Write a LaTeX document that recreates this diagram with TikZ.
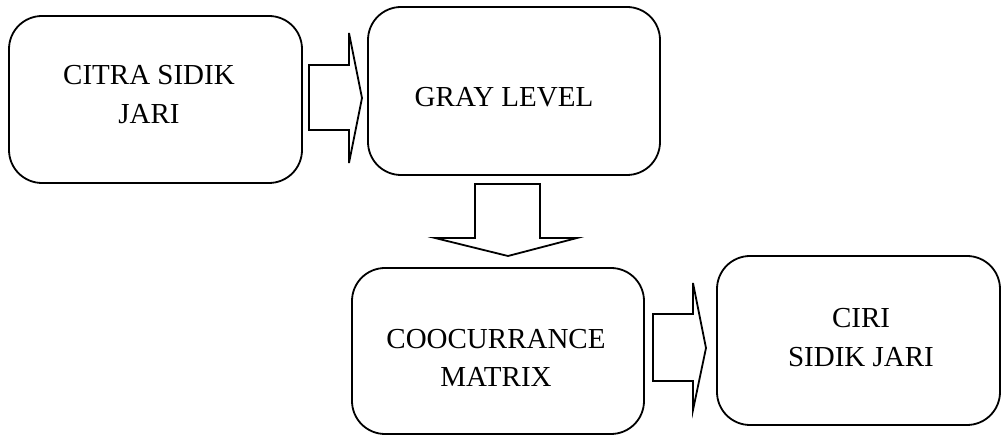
\documentclass[tikz,border=0pt]{standalone}
\usepackage{fontspec}
\setmainfont{Liberation Serif}
\begin{document}
\begin{tikzpicture}[x=1pt,y=-1pt,
  stagebox/.style={draw=black, line width=1.8pt, rounded corners=33pt, inner sep=0pt, outer sep=0pt},
  caption/.style={anchor=base, inner sep=0pt, font=\fontsize{29}{39}\selectfont},
  blockarrow/.style={draw=black, line width=1.8pt, fill=white, line join=miter}]
  \useasboundingbox (0,0) rectangle (1002,435);

  % process stages
  \node[stagebox, minimum width=293pt, minimum height=167pt] (citra) at (155.5,99.5) {};
  \node[stagebox, minimum width=292pt, minimum height=168pt] (gray)  at (514,91) {};
  \node[stagebox, minimum width=292pt, minimum height=166pt] (cooc)  at (498,351) {};
  \node[stagebox, minimum width=283pt, minimum height=169pt] (ciri)  at (858.5,340.5) {};

  % stage captions
  \node[caption] (citraA) at (149,85)  {CITRA SIDIK};
  \node[caption] (citraB) at (149,124) {JARI};
  \node[caption] (grayA)  at (504,107) {GRAY LEVEL};
  \node[caption] (coocA)  at (496,349) {COOCURRANCE};
  \node[caption] (coocB)  at (496,387) {MATRIX};
  \node[caption] (ciriA)  at (861,328) {CIRI};
  \node[caption] (ciriB)  at (861,367) {SIDIK JARI};

  % hollow block arrows between stages
  \draw[blockarrow] (309,65) -- (349,65) -- (349,33) -- (362,98) -- (349,163) -- (349,130) -- (309,130) -- cycle;
  \draw[blockarrow] (475,184) -- (540,184) -- (540,238) -- (577,238) -- (508,256) -- (435,238) -- (475,238) -- cycle;
  \draw[blockarrow] (653,314) -- (693,314) -- (693,283) -- (706,348) -- (693,410) -- (693,381) -- (653,381) -- cycle;
\end{tikzpicture}
\end{document}
